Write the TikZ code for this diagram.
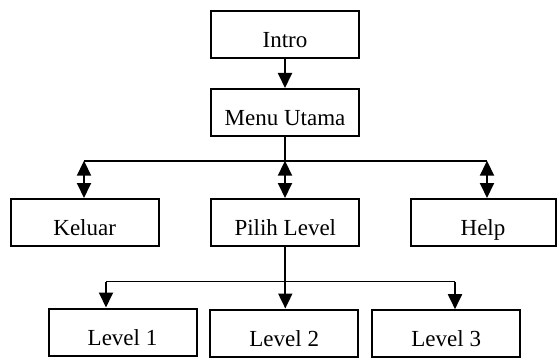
\documentclass[tikz,border=0pt]{standalone}
\usepackage{fontspec}
\setmainfont{Liberation Serif}
\usetikzlibrary{arrows.meta}
\begin{document}
\begin{tikzpicture}[x=1pt,y=-1pt,
  box/.style={draw, line width=2pt, minimum width=148pt, minimum height=47pt, inner sep=0pt, text height=26pt, text depth=0pt, font=\fontsize{23}{26}\selectfont},
  conn/.style={line width=1.9pt},
  tip/.style={conn, -{Triangle[length=15pt,width=14pt]}},
  dtip/.style={conn, {Triangle[length=15pt,width=14pt]}-{Triangle[length=15pt,width=14pt]}}]
\useasboundingbox (0,0) rectangle (557,361);
\node[box] (intro) at (285,34.7) {Intro};
\node[box] (menu) at (285,112.5) {Menu Utama};
\node[box] (keluar) at (84.7,222.5) {Keluar};
\node[box] (pilih) at (285.3,222.5) {Pilih Level};
\node[box, minimum width=145pt] (help) at (483,222.5) {Help};
\node[box] (l1) at (122.5,332) {Level 1};
\node[box] (l2) at (284.2,333) {Level 2};
\node[box] (l3) at (446.2,333.7) {Level 3};
\coordinate (hL) at (84,160.7);
\coordinate (hR) at (487,160.7);
\coordinate (gL) at (106,281.5);
\coordinate (gR) at (455,281.5);
\coordinate (hM) at (menu.south |- hL);
\coordinate (gM) at (pilih.south |- gL);
\draw[tip] (intro) -- (menu);
\draw[conn] (menu.south) -- (hM);
\draw[conn] (hL) -- (hR);
\draw[dtip] (hL) -- (hL |- keluar.north);
\draw[dtip] (hM) -- (hM |- pilih.north);
\draw[dtip] (hR) -- (hR |- help.north);
\draw[conn] (pilih.south) -- (gM);
\draw[conn] (gL) -- (gR);
\draw[tip] (gL) -- (gL |- l1.north);
\draw[tip] (gM) -- (gM |- l2.north);
\draw[tip] (gR) -- (gR |- l3.north);
\end{tikzpicture}
\end{document}
